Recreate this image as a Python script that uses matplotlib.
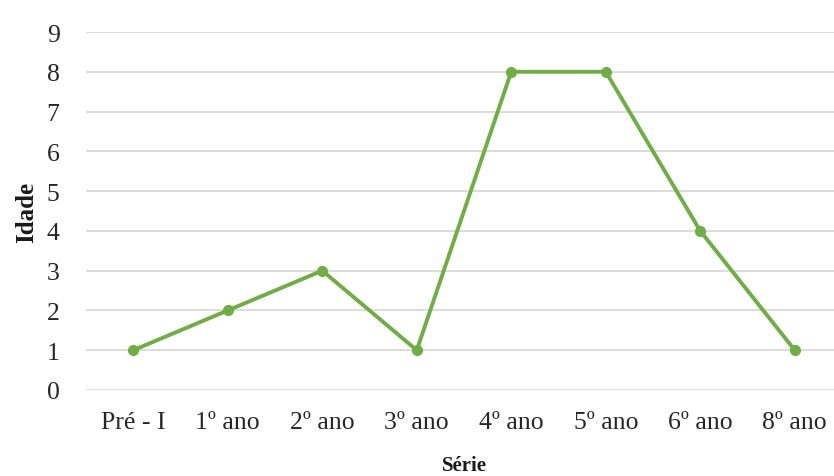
import matplotlib.pyplot as plt

# dados
series = ['Pré - I', '1º ano', '2º ano', '3º ano', '4º ano', '5º ano', '6º ano', '8º ano']
idade = [1, 2, 3, 1, 8, 8, 4, 1]
yticks = list(range(0, 10))

plt.rcParams['font.family'] = ['Liberation Serif', 'DejaVu Serif']

fig = plt.figure(figsize=(8.34, 4.77), dpi=100)
ax = fig.add_axes([86/834, 1 - 391/477, (842 - 86)/834, (391 - 33)/477])

x = list(range(len(series)))
ax.plot(x, idade, color='#70AD47', linewidth=2.8, marker='o', markersize=7,
        markerfacecolor='#70AD47', markeredgecolor='#70AD47', zorder=3)

ax.set_xlim(-0.5, len(series) - 0.5)
ax.set_ylim(0, 9)
ax.set_yticks(yticks)
ax.set_xticks(x)
ax.set_xticklabels(series)
ax.grid(axis='y', color='#d9d9d9', linewidth=1.3)
ax.set_axisbelow(True)
for s in ax.spines.values():
    s.set_visible(False)
ax.tick_params(axis='both', length=0, labelsize=18.5, colors='#262626')
ax.tick_params(axis='y', pad=19)
ax.tick_params(axis='x', pad=15)

ax.set_ylabel('Idade', fontsize=18, fontweight='bold', color='#1a1a1a', labelpad=6)
ax.set_xlabel('Série', fontsize=15, fontweight='bold', color='#1a1a1a', labelpad=16)

fig.savefig('out.png', dpi=100)
